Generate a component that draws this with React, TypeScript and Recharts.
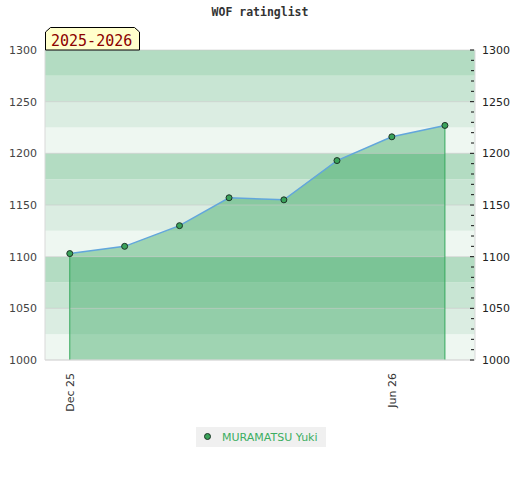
import React from 'react';
import { ComposedChart, Area, Line, XAxis, YAxis, ReferenceArea, ReferenceLine } from 'recharts';

const months = ['2025-12-01', '2026-01-01', '2026-02-01', '2026-03-01', '2026-04-01', '2026-05-01', '2026-06-01', '2026-07-01'];
const ratings = [1103, 1110, 1130, 1157, 1155, 1193, 1216, 1227];

const xTickDates = ['2025-12-01', '2026-06-01'];
const xTickLabels = ['Dec 25', 'Jun 26'];
const xDomainDates = ['2025-11-17', '2026-07-18'];

const yTicks = [1000, 1050, 1100, 1150, 1200, 1250, 1300];
const yMinorTicks = [1000, 1010, 1020, 1030, 1040, 1050, 1060, 1070, 1080, 1090, 1100, 1110, 1120, 1130, 1140, 1150, 1160, 1170, 1180, 1190, 1200, 1210, 1220, 1230, 1240, 1250, 1260, 1270, 1280, 1290, 1300];
const bandStarts = [1000, 1025, 1050, 1075, 1100, 1125, 1150, 1175, 1200, 1225, 1250, 1275];

const seriesName = 'MURAMATSU Yuki';
const seasonLabel = '2025-2026';
const title = 'WOF ratinglist';

// bottom to top inside each 100 block
const bandColors = ['#eef7f1', '#dbede2', '#c8e5d3', '#b3dcc2'];

const ts = (s: string) => {
  const [y, m, d] = s.split('-').map(Number);
  return Date.UTC(y, m - 1, d);
};

const data = months.map((m, i) => ({ t: ts(m), rating: ratings[i] }));
const xTicks = xTickDates.map(ts);
const first = data[0];
const last = data[data.length - 1];

const XTick = (props: any) => {
  const { x, y, payload } = props;
  const idx = xTicks.indexOf(payload.value);
  return (
    <g transform={`translate(${x},${y})`}>
      <text transform="rotate(-90)" textAnchor="end" dy="0.35em" fill="#333" fontSize={11} fontFamily="DejaVu Sans">
        {xTickLabels[idx]}
      </text>
    </g>
  );
};

const RightTick = (props: any) => {
  const { x, y, payload } = props;
  const major = payload.value % 50 === 0;
  return (
    <g>
      <line x1={x - (major ? 12 : 11)} x2={x - 8} y1={y} y2={y} stroke="#111" strokeWidth={1} />
      {major && (
        <text x={x} y={y} dy="0.35em" textAnchor="start" fill="#222" fontSize={11} fontFamily="DejaVu Sans">
          {payload.value}
        </text>
      )}
    </g>
  );
};

const App: React.FC = () => {
  return (
    <div style={{ position: 'absolute', left: 0, top: 0, width: 520, height: 480, background: '#fff' }}>
      <ComposedChart width={520} height={480} data={data} margin={{ top: 50, right: 0, bottom: 0, left: 0 }}>
        {bandStarts.map((b, i) => (
          <ReferenceArea key={b} yAxisId="left" y1={b} y2={b + 25} fill={bandColors[i % 4]} fillOpacity={1} stroke="none" />
        ))}
        {yTicks.map((v) => (
          <ReferenceLine key={v} yAxisId="left" y={v} stroke="#c8c8c8" strokeOpacity={0.6} />
        ))}
        <XAxis
          dataKey="t"
          type="number"
          scale="time"
          domain={xDomainDates.map(ts)}
          ticks={xTicks}
          interval={0}
          height={120}
          tickLine={false}
          tickSize={0}
          tickMargin={13}
          axisLine={{ stroke: '#d9d9d9' }}
          tick={<XTick />}
        />
        <YAxis
          yAxisId="left"
          orientation="left"
          width={45}
          domain={[1000, 1300]}
          ticks={yTicks}
          interval={0}
          tickLine={false}
          axisLine={{ stroke: '#d9d9d9' }}
          tick={{ fill: '#444', fontSize: 11, fontFamily: 'DejaVu Sans' }}
        />
        <YAxis
          yAxisId="right"
          orientation="right"
          width={45}
          domain={[1000, 1300]}
          allowDataOverflow
          ticks={yMinorTicks}
          interval={0}
          tickLine={false}
          tickSize={0}
          tickMargin={7}
          axisLine={{ stroke: '#d9d9d9' }}
          tick={<RightTick />}
        />
        <Area
          yAxisId="left"
          type="linear"
          dataKey="rating"
          fill="#27a154"
          fillOpacity={0.4}
          stroke="none"
          isAnimationActive={false}
        />
        <ReferenceLine
          yAxisId="left"
          segment={[{ x: first.t, y: 1000 }, { x: first.t, y: first.rating }]}
          stroke="#34a85c"
        />
        <ReferenceLine
          yAxisId="left"
          segment={[{ x: last.t, y: 1000 }, { x: last.t, y: last.rating }]}
          stroke="#34a85c"
        />
        <Line
          yAxisId="right"
          type="linear"
          dataKey="rating"
          stroke="none"
          dot={false}
          activeDot={false}
          legendType="none"
          isAnimationActive={false}
        />
        <Line
          yAxisId="left"
          type="linear"
          dataKey="rating"
          name={seriesName}
          stroke="#62a6dc"
          strokeWidth={1.5}
          dot={{ r: 3, fill: '#3aa35a', stroke: '#1c3326', strokeWidth: 1 }}
          isAnimationActive={false}
        />
      </ComposedChart>
      <svg width={520} height={60} style={{ position: 'absolute', left: 0, top: 0, pointerEvents: 'none' }}>
        <text x={260} y={16} textAnchor="middle" fontFamily="DejaVu Sans Mono" fontWeight="bold" fontSize={11.5} fill="#333">
          {title}
        </text>
        <polygon points="45.5,50 45.5,32 50.5,27.5 134.5,27.5 139.5,32 139.5,50" fill="#ffffcc" stroke="#000" strokeWidth={1} />
        <text x={51} y={46} fontFamily="DejaVu Sans Mono" fontSize={15} fill="#8b0000">
          {seasonLabel}
        </text>
      </svg>
      <div
        style={{
          position: 'absolute',
          left: 196,
          top: 427,
          width: 130,
          height: 20,
          background: '#f0f0f0',
          display: 'flex',
          alignItems: 'center',
          fontFamily: 'DejaVu Sans',
          fontSize: 11,
          whiteSpace: 'nowrap',
          color: '#3cae62',
        }}
      >
        <svg width={26} height={20} style={{ flex: 'none' }}>
          <circle cx={11.5} cy={9.5} r={3} fill="#3aa35a" stroke="#1c3326" strokeWidth={1} />
        </svg>
        <span>{seriesName}</span>
      </div>
    </div>
  );
};

export default App;
